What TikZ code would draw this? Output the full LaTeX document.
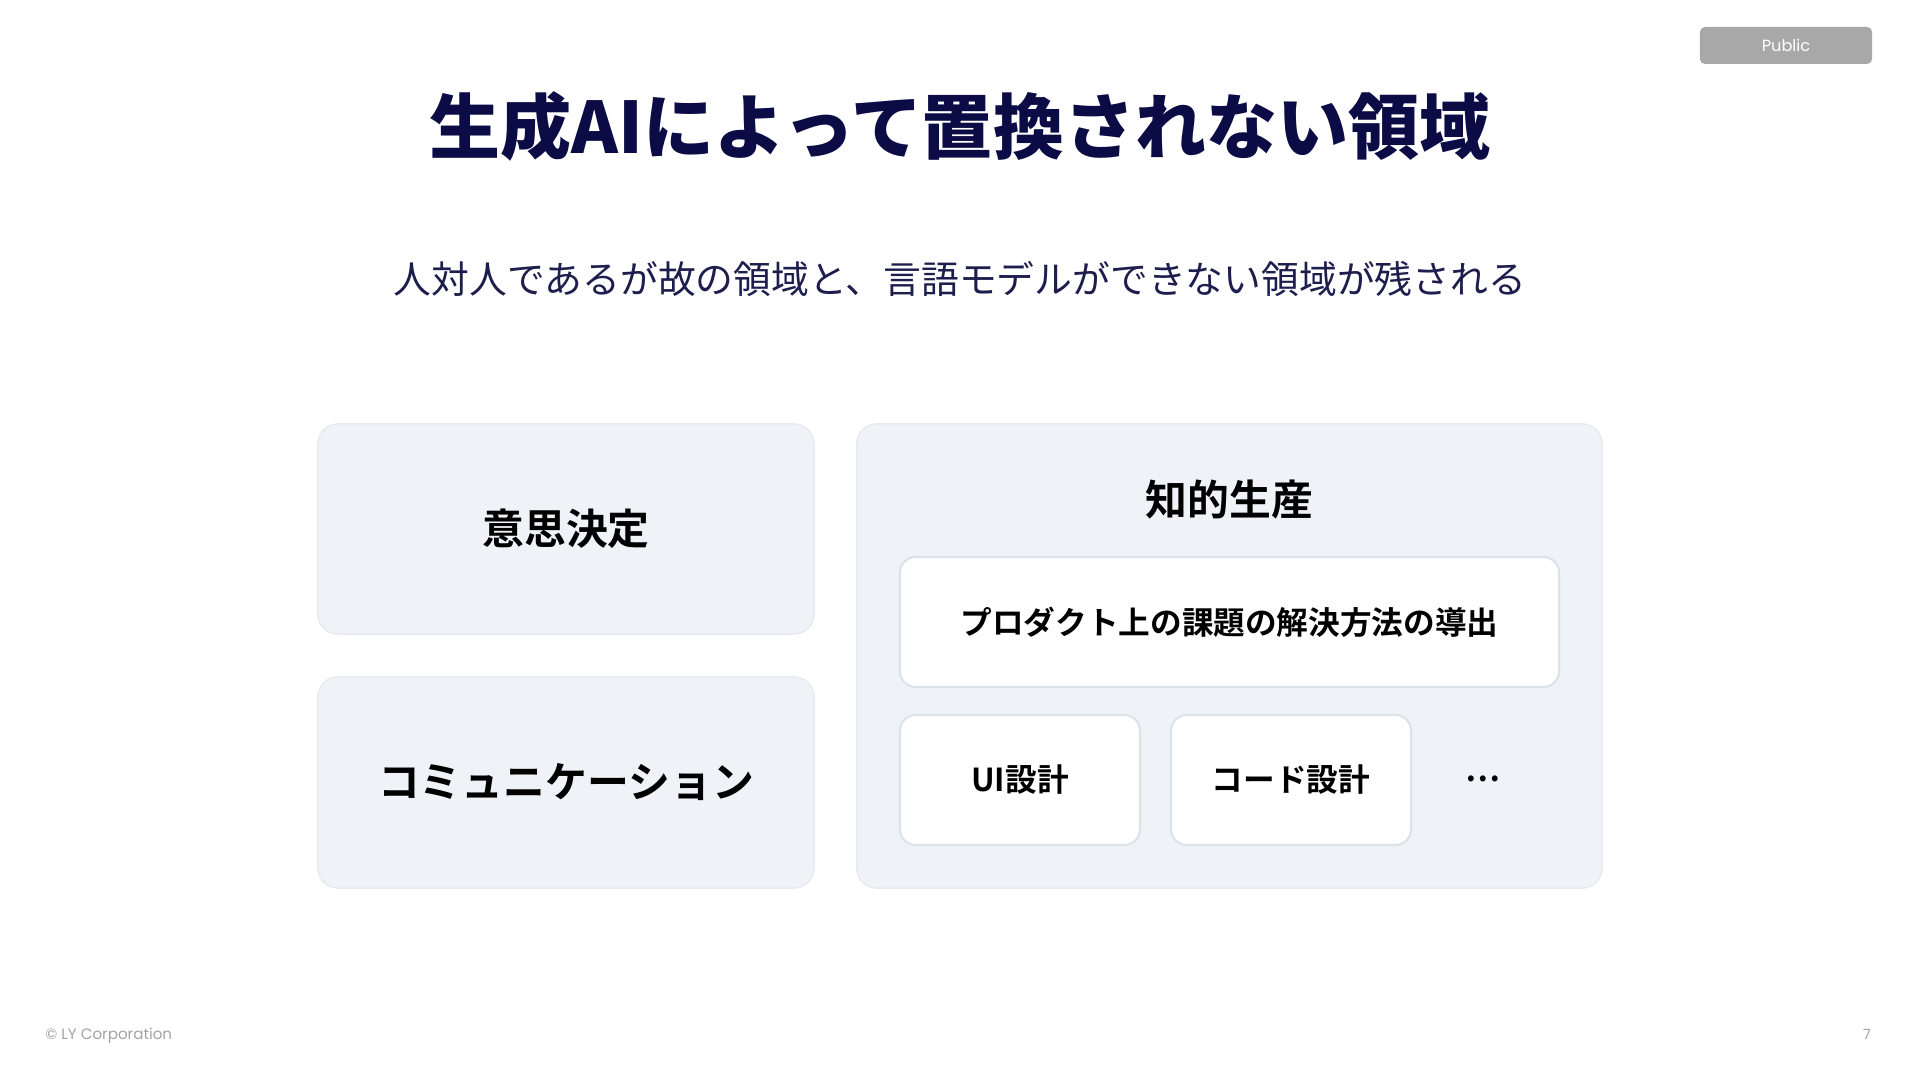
\documentclass[tikz,border=0pt]{standalone}
\usepackage{fontspec}
\usepackage{tikz}
\setmainfont{Noto Sans CJK JP}[BoldFont={* Bold}]
\newfontfamily\jpblack{Noto Sans CJK JP}[UprightFont={* Black}]
\newfontfamily\latinsans{Poppins}

\definecolor{navy}{HTML}{0B0B45}
\definecolor{subnavy}{HTML}{1E1E4E}
\definecolor{panelfill}{HTML}{EFF3F8}
\definecolor{panelline}{HTML}{E7EBF0}
\definecolor{cardline}{HTML}{DCE2EA}
\definecolor{badgegray}{HTML}{A8A8A8}
\definecolor{footgray}{HTML}{A3A3A3}

\tikzset{
  panel/.style={rounded corners=0.2cm, fill=panelfill, draw=panelline, line width=0.4pt},
  card/.style={rounded corners=0.16cm, fill=white, draw=cardline, line width=0.6pt},
  label/.style={font=\bfseries\fontsize{11.9}{13}\selectfont, text=black},
  smalllabel/.style={font=\bfseries\fontsize{9.0}{11}\selectfont, text=black},
}

\begin{document}
\begin{tikzpicture}[x=0.01cm, y=-0.01cm]
  % page
  \fill[white] (0,0) rectangle (1920,1080);
  \useasboundingbox (0,0) rectangle (1920,1080);

  % badge
  \node[fill=badgegray, rounded corners=0.05cm, minimum width=1.72cm, minimum height=0.37cm,
        text=white, font=\latinsans\fontsize{4.6}{5}\selectfont] (badge) at (1786,45.5) {Public};

  % heading
  \node[text=navy, font=\jpblack\fontsize{20.2}{22}\selectfont] (title) at (960,126)
    {生成AIによって置換されない領域};
  \node[text=subnavy, font=\fontsize{10.75}{12}\selectfont] (subtitle) at (960,279)
    {人対人であるが故の領域と、言語モデルができない領域が残される};

  % left column
  \node[panel, minimum width=4.96cm, minimum height=2.10cm] (decision) at (566,529) {};
  \node[label] at (decision) {意思決定};
  \node[panel, minimum width=4.96cm, minimum height=2.11cm] (communication) at (566,782.5) {};
  \node[label] at (communication) {コミュニケーション};

  % right column
  \node[panel, minimum width=7.45cm, minimum height=4.64cm] (production) at (1229.5,656) {};
  \node[label] (productiontitle) at (1229.5,500) {知的生産};
  \node[card, minimum width=6.59cm, minimum height=1.30cm, smalllabel] (solution) at (1229.5,622)
    {プロダクト上の課題の解決方法の導出};
  \node[card, minimum width=2.40cm, minimum height=1.30cm, smalllabel] (uidesign) at (1020,780)
    {UI設計};
  \node[card, minimum width=2.40cm, minimum height=1.30cm, smalllabel] (codedesign) at (1291,780)
    {コード設計};
  \node[smalllabel] (more) at (1483,779) {…};

  % footer
  \node[text=footgray, font=\latinsans\fontsize{4.3}{5}\selectfont, anchor=west] (copyright) at (33,1036)
    {© LY Corporation};
  \node[text=footgray, font=\latinsans\fontsize{4.0}{5}\selectfont] (pagenum) at (1867,1034) {7};
\end{tikzpicture}
\end{document}
